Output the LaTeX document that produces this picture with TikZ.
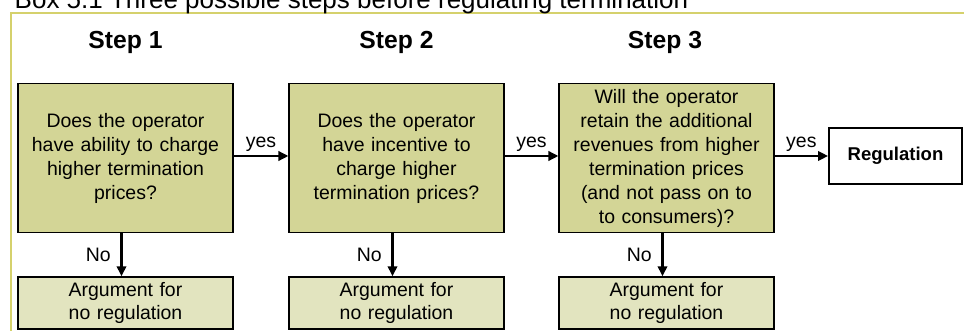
\documentclass[tikz,border=0pt]{standalone}
\usepackage{fontspec}
\setmainfont{Liberation Sans}
\usetikzlibrary{arrows.meta,positioning}
\definecolor{sage}{HTML}{D3D596}
\definecolor{pale}{HTML}{E2E4BF}
\definecolor{rim}{HTML}{D5D16C}
\tikzset{
  qbox/.style={draw=black,line width=1.1pt,fill=sage,minimum width=161pt,minimum height=112pt,text width=155pt,align=center,inner sep=0pt,font=\fontsize{14.6}{18}\selectfont},
  argbox/.style={draw=black,line width=1.1pt,fill=pale,minimum width=161pt,minimum height=39pt,text width=155pt,align=center,inner sep=0pt,font=\fontsize{14.6}{17.8}\selectfont},
  regbox/.style={draw=black,line width=1.1pt,fill=white,minimum width=100pt,minimum height=42pt,inner sep=0pt,font=\fontsize{13.9}{16}\selectfont\bfseries},
  steplbl/.style={font=\fontsize{18.5}{22}\selectfont\bfseries},
  arrow/.style={-{Triangle[length=7.5pt,width=7pt]},line width=2.2pt},
  lbl/.style={font=\fontsize{14.6}{17.8}\selectfont,inner sep=2pt},
}
\begin{document}
\begin{tikzpicture}[x=0.75pt,y=-0.75pt]
  \clip (0,0) rectangle (964,331);
  % frame of the box
  \draw[rim,line width=2.2pt] (11,345) |- (980,13);
  \node[anchor=base west,font=\fontsize{19.5}{23}\selectfont] (title) at (10,9) {Box 5.1 Three possible steps before regulating termination};
  % steps
  \node[steplbl] (s1) at (125.5,42) {Step 1};
  \node[steplbl] (s2) at (396.5,42) {Step 2};
  \node[steplbl] (s3) at (665,42) {Step 3};
  \node[qbox] (q1) at (125.5,158) {Does the operator\\have ability to charge\\higher termination\\prices?};
  \node[qbox] (q2) at (396.5,158) {Does the operator\\have incentive to\\charge higher\\termination prices?};
  \node[qbox] (q3) at (666.5,158) {Will the operator\\retain the additional\\revenues from higher\\termination prices\\(and not pass on to\\to consumers)?};
  \node[regbox] (reg) at (895.5,156) {Regulation};
  \foreach \i/\x in {1/125.5,2/396.5,3/666.5} {
    \node[argbox] (arg\i) at (\x,303) {Argument for\\no regulation};
    \draw[arrow] ([xshift=-3pt]q\i.south) -- ([xshift=-3pt]arg\i.north) node[lbl,midway,left=5pt] {No};
  }
  \draw[arrow] (q1.east |- reg) -- (q2.west |- reg) node[lbl,midway,above] {yes};
  \draw[arrow] (q2.east |- reg) -- (q3.west |- reg) node[lbl,midway,above] {yes};
  \draw[arrow] (q3.east |- reg) -- (reg) node[lbl,midway,above] {yes};
\end{tikzpicture}
\end{document}
